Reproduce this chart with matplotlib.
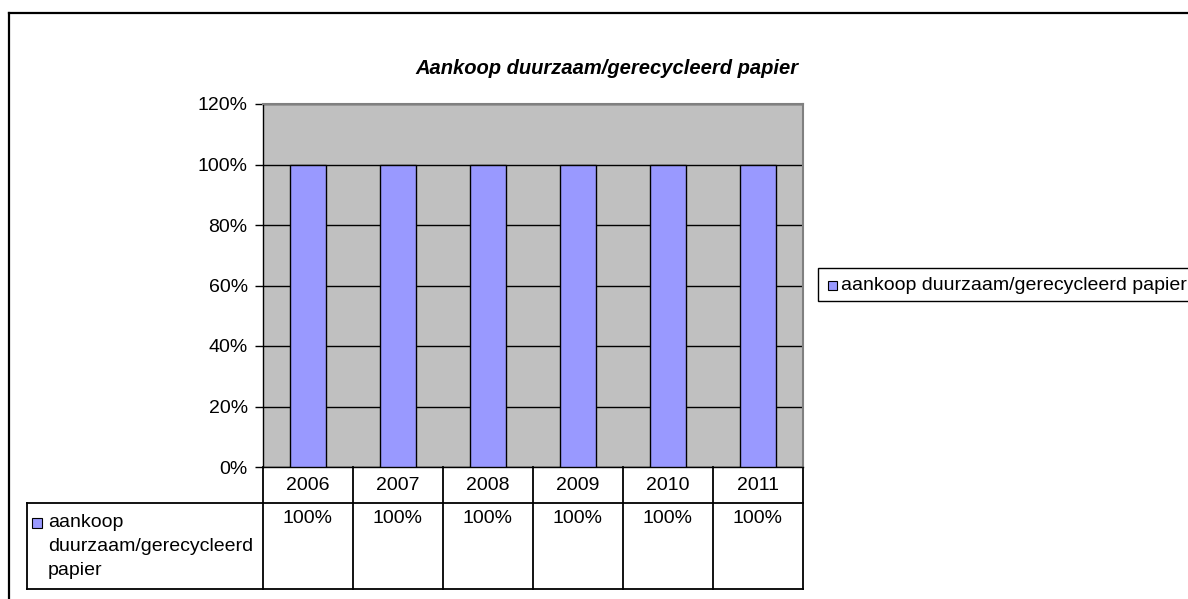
import matplotlib
matplotlib.use("Agg")
import matplotlib.pyplot as plt
import matplotlib.transforms as mtransforms
from matplotlib.lines import Line2D
from matplotlib.patches import Rectangle
from matplotlib.ticker import PercentFormatter
import numpy as np

years = ["2006", "2007", "2008", "2009", "2010", "2011"]
values = [1.0, 1.0, 1.0, 1.0, 1.0, 1.0]
series_name = "aankoop duurzaam/gerecycleerd papier"
table_label = "aankoop\nduurzaam/gerecycleerd\npapier"
title = "Aankoop duurzaam/gerecycleerd papier"
yticks = [0, 0.2, 0.4, 0.6, 0.8, 1.0, 1.2]

BAR = "#9999FF"
GRAY = "#C0C0C0"
FONT = "Liberation Sans"
FS = 14

W, H = 1188, 599
fig = plt.figure(figsize=(W / 100, H / 100), dpi=100)

def fx(x):
    return x / W

def fy(y):
    return 1 - y / H

# chart border
fig.add_artist(Line2D([fx(9), fx(9)], [fy(13), fy(620)], color="black", lw=1.6))
fig.add_artist(Line2D([fx(9), fx(1250)], [fy(13), fy(13)], color="black", lw=1.6))

ax = fig.add_axes([fx(263), fy(467), fx(803) - fx(263), (467 - 104) / H])
ax.set_facecolor(GRAY)
x = np.arange(len(years))
ax.bar(x, values, width=0.41, color=BAR, edgecolor="black", linewidth=1, zorder=3)
ax.set_xlim(-0.5, len(years) - 0.5)
ax.set_ylim(0, 1.2)
ax.set_yticks(yticks)
ax.yaxis.set_major_formatter(PercentFormatter(1.0, decimals=0))
ax.grid(axis="y", color="black", linewidth=1, zorder=1)
ax.set_axisbelow(True)
ax.tick_params(axis="x", length=0, labelbottom=False)
ax.tick_params(axis="y", length=6, width=1, direction="out", pad=5, labelsize=FS)
for lab in ax.get_yticklabels():
    lab.set_fontfamily(FONT)
for s in ["left", "bottom"]:
    ax.spines[s].set_color("black")
    ax.spines[s].set_linewidth(1)
for s in ["top", "right"]:
    ax.spines[s].set_color("#808080")
    ax.spines[s].set_linewidth(1.5)

# title
fig.text(fx(607), fy(68), title, ha="center", va="center", fontsize=14.5,
         fontweight="bold", fontstyle="italic", fontfamily=FONT)

# data table
trans = mtransforms.blended_transform_factory(ax.transData, ax.transAxes)
ah = 467 - 104
r1 = -(503 - 467) / ah
r2 = -(589 - 467) / ah
left = (27 - 263) / 540 * len(years) - 0.5
lw = 1.3
for b in np.arange(len(years) + 1) - 0.5:
    ax.add_line(Line2D([b, b], [0, r2], transform=trans, color="black", lw=lw, clip_on=False))
ax.add_line(Line2D([left, len(years) - 0.5], [r1, r1], transform=trans, color="black", lw=lw, clip_on=False))
ax.add_line(Line2D([left, len(years) - 0.5], [r2, r2], transform=trans, color="black", lw=lw, clip_on=False))
ax.add_line(Line2D([left, left], [r1, r2], transform=trans, color="black", lw=lw, clip_on=False))
for i, (yr, v) in enumerate(zip(years, values)):
    ax.text(i, -(485.5 - 467) / ah, yr, transform=trans, ha="center", va="center", fontsize=FS, fontfamily=FONT)
    ax.text(i, -(510 - 467) / ah, f"{v:.0%}", transform=trans, ha="center", va="top", fontsize=FS, fontfamily=FONT)
fig.add_artist(Rectangle((fx(32), fy(528)), 10 / W, 10 / H, facecolor=BAR, edgecolor="black", lw=0.8))
fig.text(fx(48), fy(514), table_label, ha="left", va="top", fontsize=FS, fontfamily=FONT, linespacing=1.55)

# legend (cut off at right edge like the reference)
fig.add_artist(Rectangle((fx(818), fy(301)), (1300 - 818) / W, 33 / H, facecolor="white",
                         edgecolor="black", lw=1, clip_on=False))
fig.add_artist(Rectangle((fx(828), fy(290)), 9 / W, 9 / H, facecolor=BAR, edgecolor="black", lw=0.8))
fig.text(fx(841), fy(285.5), series_name, ha="left", va="center", fontsize=FS, fontfamily=FONT)

fig.savefig("out.png", dpi=100)
